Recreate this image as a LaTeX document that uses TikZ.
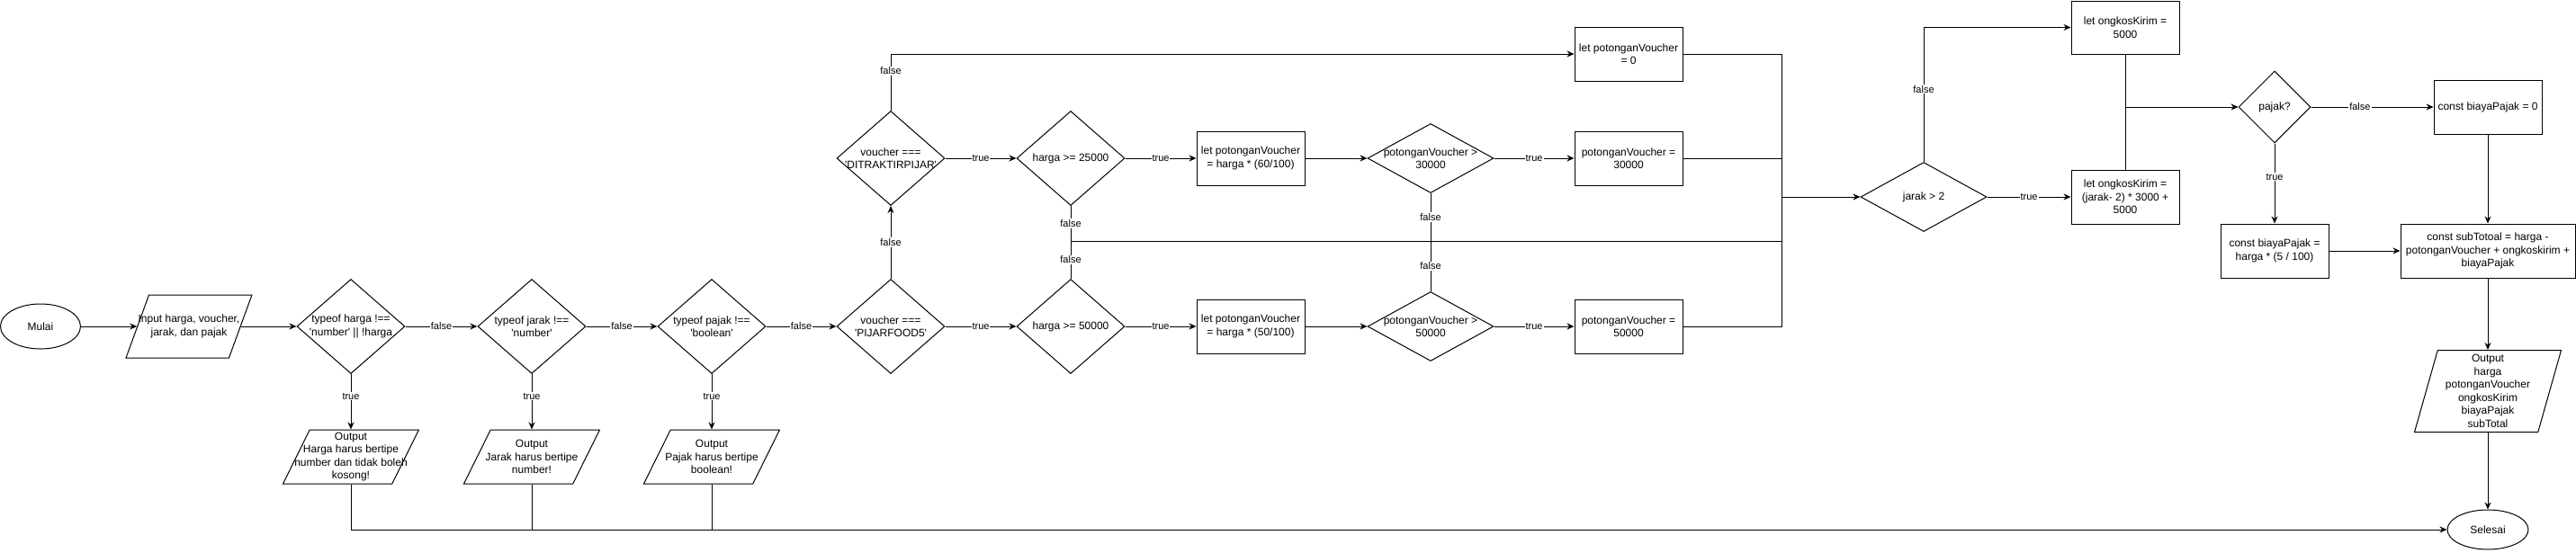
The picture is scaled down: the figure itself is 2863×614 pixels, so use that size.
\documentclass[tikz,border=0pt]{standalone}
\usepackage{fontspec}
\setmainfont{Liberation Sans}[Ligatures=TeXOff]
\usetikzlibrary{shapes.geometric,arrows.meta}

\begin{document}
\begin{tikzpicture}[x=1pt,y=-1pt,line width=1pt,
  font=\fontsize{12}{14.5}\selectfont,
  >={Stealth[length=8pt,width=7pt]},
  ujung/.style={ellipse,draw,minimum width=89pt,minimum height=50pt,inner sep=0},
  kotak/.style={rectangle,draw,minimum width=120pt,minimum height=60pt,inner sep=0,align=center},
  cek/.style={diamond,draw,minimum width=120pt,minimum height=105pt,inner sep=1pt},
  ceklebar/.style={cek,minimum width=140pt,minimum height=77pt},
  io/.style={trapezium,draw,trapezium left angle=72,trapezium right angle=108,trapezium stretches=true,minimum width=151pt,minimum height=60pt,inner sep=2pt},
  isi/.style={align=center,inner sep=0},
  ket/.style={fill=white,inner sep=1pt,font=\fontsize{11}{13}\selectfont}]
  \def\ya{176};
  \def\yb{363};
  \def\yc{508};
  \useasboundingbox (0,0) rectangle (2863,614);
  %start and input
  \node[ujung] (mulai) at (45,\yb) {Mulai};
  \node[io,trapezium left angle=74,trapezium right angle=106,minimum width=140pt,minimum height=70pt,label={[isi]center:{Input harga, voucher,\\jarak, dan pajak}}] (input) at (210,\yb) {};
  %validation
  \node[cek,label={[isi]center:{typeof harga !==\\'number' || !harga}}] (cekharga) at (390,\yb) {};
  \node[io,label={[isi]center:{Output\\Harga harus bertipe\\number dan tidak boleh\\kosong!}}] (outharga) at (390,\yc) {};
  \node[cek,label={[isi]center:{typeof jarak !==\\'number'}}] (cekjarak) at (591,\yb) {};
  \node[io,label={[isi]center:{Output\\Jarak harus bertipe\\number!}}] (outjarak) at (591,\yc) {};
  \node[cek,label={[isi]center:{typeof pajak !==\\'boolean'}}] (cekpajak) at (791,\yb) {};
  \node[io,label={[isi]center:{Output\\Pajak harus bertipe\\boolean!}}] (outpajak) at (791,\yc) {};
  %voucher
  \node[cek,label={[isi]center:{voucher ===\\'PIJARFOOD5'}}] (pijar) at (990,\yb) {};
  \node[cek,label={[isi]center:{voucher ===\\'DITRAKTIRPIJAR'}}] (traktir) at (990,\ya) {};
  \node[cek,label={[isi]center:{harga >= 25000}}] (min25) at (1190,\ya) {};
  \node[cek,label={[isi]center:{harga >= 50000}}] (min50) at (1190,\yb) {};
  \node[kotak] (pot60) at (1390,\ya) {let potonganVoucher\\= harga * (60/100)};
  \node[kotak] (pot50) at (1390,\yb) {let potonganVoucher\\= harga * (50/100)};
  \node[ceklebar,label={[isi]center:{potonganVoucher >\\30000}}] (max30) at (1590,\ya) {};
  \node[ceklebar,label={[isi]center:{potonganVoucher >\\50000}}] (max50) at (1590,\yb) {};
  \node[kotak] (pot0) at (1810,60) {let potonganVoucher\\= 0};
  \node[kotak] (set30) at (1810,\ya) {potonganVoucher =\\30000};
  \node[kotak] (set50) at (1810,\yb) {potonganVoucher =\\50000};
  \coordinate (jalur) at (1190,268);
  \coordinate (gabung) at (1980,219);
  %shipping
  \node[ceklebar,label={[isi]center:{jarak > 2}}] (cekongkos) at (2138,219) {};
  \node[kotak,minimum height=59pt] (ongkos5) at (2362,30.5) {let ongkosKirim =\\5000};
  \node[kotak] (ongkosjauh) at (2362,219) {let ongkosKirim =\\(jarak- 2) * 3000 +\\5000};
  \coordinate (cabang) at (2362,119);
  %tax and total
  \node[cek,minimum width=80pt,minimum height=80pt,label={[isi]center:{pajak?}}] (adapajak) at (2528,119) {};
  \node[kotak] (pajak0) at (2765,119) {const biayaPajak = 0};
  \node[kotak] (pajak5) at (2528,279) {const biayaPajak =\\harga * (5 / 100)};
  \node[kotak,minimum width=194pt] (subtotal) at (2765,279) {const subTotoal = harga -\\potonganVoucher + ongkoskirim +\\biayaPajak};
  \node[io,trapezium left angle=77,trapezium right angle=103,minimum width=163pt,minimum height=91pt,label={[isi]center:{Output\\harga\\potonganVoucher\\ongkosKirim\\biayaPajak\\subTotal}}] (hasil) at (2765,435) {};
  \node[ujung,minimum width=90pt,minimum height=44pt] (selesai) at (2765,589) {Selesai};
  %arrows
  \draw[->] (mulai) -- (input);
  \draw[->] (input) -- (cekharga);
  \draw[->] (cekharga) -- node[ket]{false} (cekjarak);
  \draw[->] (cekjarak) -- node[ket]{false} (cekpajak);
  \draw[->] (cekpajak) -- node[ket]{false} (pijar);
  \draw[->] (cekharga) -- node[ket,pos=0.4]{true} (outharga);
  \draw[->] (cekjarak) -- node[ket,pos=0.4]{true} (outjarak);
  \draw[->] (cekpajak) -- node[ket,pos=0.4]{true} (outpajak);
  \draw[->] (outharga) |- (selesai);
  \draw (outjarak) -- (outjarak |- selesai);
  \draw (outpajak) -- (outpajak |- selesai);
  \draw[->] (pijar) -- node[ket]{false} (traktir);
  \draw[->] (pijar) -- node[ket]{true} (min50);
  \draw[->] (traktir) -- node[ket]{true} (min25);
  \draw[->] (traktir) |- node[ket,pos=0.35]{false} (pot0);
  \draw[->] (min25) -- node[ket]{true} (pot60);
  \draw[->] (min50) -- node[ket]{true} (pot50);
  \draw (min25) -- node[ket]{false} (jalur);
  \draw (min50) -- node[ket]{false} (jalur);
  \draw (jalur) -- (jalur -| gabung);
  \draw[->] (pot60) -- (max30);
  \draw[->] (pot50) -- (max50);
  \draw[->] (max30) -- node[ket]{true} (set30);
  \draw[->] (max50) -- node[ket]{true} (set50);
  \draw (max30) -- node[ket]{false} (max30 |- jalur);
  \draw (max50) -- node[ket]{false} (max50 |- jalur);
  \draw (pot0) -| (set50 -| gabung) -- (set50);
  \draw (set30) -- (set30 -| gabung);
  \draw[->] (gabung) -- (cekongkos);
  \draw[->] (cekongkos) -- node[ket]{true} (ongkosjauh);
  \draw[->] (cekongkos) |- node[ket,pos=0.27]{false} (ongkos5);
  \draw (ongkos5) -- (ongkosjauh);
  \draw[->] (cabang) -- (adapajak);
  \draw[->] (adapajak) -- node[ket,pos=0.4]{false} (pajak0);
  \draw[->] (adapajak) -- node[ket,pos=0.42]{true} (pajak5);
  \draw[->] (pajak0) -- (subtotal);
  \draw[->] (pajak5) -- (subtotal);
  \draw[->] (subtotal) -- (hasil);
  \draw[->] (hasil) -- (selesai);
\end{tikzpicture}
\end{document}
